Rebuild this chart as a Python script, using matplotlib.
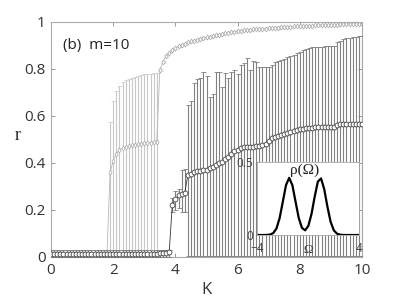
import numpy as np
import matplotlib
matplotlib.use('Agg')
import matplotlib.pyplot as plt

# coupling strength grid (step 0.1)
K = np.round(np.arange(0, 101) * 0.1, 1)

# order parameter, light gray branch (diamonds)
r_light = ([0.012] * 19 +
           [0.36, 0.41, 0.44, 0.455, 0.463, 0.468, 0.472, 0.475, 0.477, 0.48,
            0.482, 0.484, 0.486, 0.487, 0.489, 0.49] +
           [0.796, 0.83, 0.855, 0.87, 0.881, 0.89, 0.897, 0.903, 0.908, 0.913,
            0.917, 0.921, 0.925, 0.928, 0.931, 0.934, 0.937, 0.94, 0.943, 0.946,
            0.949, 0.952, 0.955, 0.957, 0.959, 0.961, 0.962, 0.964, 0.965, 0.967,
            0.968, 0.969, 0.97, 0.971, 0.972, 0.973, 0.974, 0.975, 0.976, 0.977,
            0.978, 0.979, 0.98, 0.981, 0.982, 0.983, 0.983, 0.984, 0.985, 0.985,
            0.986, 0.986, 0.987, 0.987, 0.988, 0.988, 0.989, 0.989, 0.99, 0.99,
            0.99, 0.991, 0.991, 0.991, 0.991, 0.992])
hi_light = ([0.03] * 19 +
            [0.573, 0.664, 0.708, 0.728, 0.743, 0.753, 0.757, 0.763, 0.767, 0.771,
             0.774, 0.777, 0.779, 0.78, 0.781, 0.782] +
            [v + 0.004 for v in r_light[35:]])
lo_light = [0.0] * 19 + [0.01] * 16 + [v - 0.004 for v in r_light[35:]]

# order parameter, dark branch (circles)
r_dark = ([0.012] * 35 + [0.015, 0.015, 0.015, 0.02] +
          [0.221, 0.245, 0.262, 0.268, 0.272,
           0.349, 0.355, 0.36, 0.365, 0.367, 0.37, 0.372, 0.377, 0.385, 0.391,
           0.398, 0.406, 0.415, 0.427, 0.438, 0.449, 0.456, 0.462, 0.466, 0.468,
           0.469, 0.47, 0.471, 0.474, 0.477, 0.48, 0.495, 0.505, 0.512, 0.515,
           0.519, 0.523, 0.527, 0.531, 0.535, 0.539, 0.543, 0.546, 0.548, 0.549,
           0.55, 0.551, 0.551, 0.552, 0.553, 0.553, 0.554, 0.555, 0.563, 0.565,
           0.566, 0.566, 0.566, 0.567, 0.567, 0.567, 0.567])
hi_dark = ([0.03] * 39 +
           [0.25, 0.28, 0.29, 0.37, 0.375,
            0.647, 0.665, 0.739, 0.757, 0.76, 0.789, 0.77, 0.682, 0.692, 0.789,
            0.786, 0.725, 0.784, 0.76, 0.786, 0.796, 0.777, 0.817, 0.824, 0.845,
            0.796, 0.836, 0.828, 0.81, 0.807, 0.807, 0.807, 0.817, 0.828, 0.835,
            0.838, 0.843, 0.85, 0.855, 0.86, 0.867, 0.874, 0.881, 0.885, 0.89,
            0.892, 0.893, 0.894, 0.895, 0.896, 0.897, 0.898, 0.898, 0.915, 0.92,
            0.926, 0.93, 0.932, 0.935, 0.937, 0.939, 0.94])
lo_dark = [0.0] * 39 + [0.19, 0.2, 0.21, 0.19, 0.19] + [0.003] * 57

# frequency distribution shown in the inset
omega = [-4.0, -3.75, -3.5, -3.25, -3.0, -2.75, -2.5, -2.25, -2.0, -1.75, -1.5,
         -1.25, -1.0, -0.75, -0.5, -0.25, 0.0, 0.25, 0.5, 0.75, 1.0, 1.25, 1.5,
         1.75, 2.0, 2.25, 2.5, 2.75, 3.0, 3.25, 3.5, 3.75, 4.0]
rho = [0.0, 0.0, 0.0, 0.0005, 0.003, 0.013, 0.044, 0.115, 0.227, 0.34, 0.39,
       0.34, 0.227, 0.116, 0.049, 0.032, 0.062, 0.143, 0.261, 0.364, 0.386, 0.312,
       0.193, 0.09, 0.032, 0.009, 0.002, 0.0, 0.0, 0.0, 0.0, 0.0, 0.0]

K = np.array(K)
r_light, hi_light, lo_light = map(np.array, (r_light, hi_light, lo_light))
r_dark, hi_dark, lo_dark = map(np.array, (r_dark, hi_dark, lo_dark))

plt.rcParams['font.family'] = ['Open Sans', 'DejaVu Sans']

fig = plt.figure(figsize=(3.99, 2.99), dpi=100)
ax = fig.add_axes([0.1278, 0.1405, 0.7795, 0.786])

# light gray branch
ax.errorbar(K, r_light, yerr=[r_light - lo_light, hi_light - r_light],
            fmt='-', color='#b8b8b8', lw=0.6, ecolor='#c8c8c8', elinewidth=0.8,
            capsize=1.8, capthick=0.7, marker='d', ms=2.6, mfc='white',
            mec='#a8a8a8', mew=0.5, zorder=2)

# dark branch
ax.errorbar(K, r_dark, yerr=[r_dark - lo_dark, hi_dark - r_dark],
            fmt='-', color='#333333', lw=0.6, ecolor='#808080', elinewidth=0.8,
            capsize=1.8, capthick=0.8, marker='o', ms=3.5, mfc='white',
            mec='#444444', mew=0.6, zorder=3)

ax.set_xlim(0, 10)
ax.set_ylim(0, 1)
ax.set_xticks([0, 2, 4, 6, 8, 10])
ax.set_yticks([0, 0.2, 0.4, 0.6, 0.8, 1])
ax.set_yticklabels(['0', '0.2', '0.4', '0.6', '0.8', '1'])
ax.tick_params(direction='in', top=True, right=True, length=3, width=0.6,
               color='#888888', labelsize=11, labelcolor='#333333', pad=4)
for s in ax.spines.values():
    s.set_color('#aaaaaa')
    s.set_linewidth(0.8)

ax.set_xlabel('K', fontsize=12, color='#333333', labelpad=3)
ax.set_ylabel('r', fontsize=13, color='#222222', family='Liberation Serif',
              rotation=0, va='center', ha='center')
ax.yaxis.set_label_coords(-0.106, 0.515)
ax.text(0.04, 0.9, '(b)  m=10', transform=ax.transAxes, fontsize=11,
        color='#222222', va='center')

# inset with the bimodal frequency distribution
axin = fig.add_axes([0.6449, 0.214, 0.2556, 0.2452])
axin.plot(omega, rho, color='black', lw=1.6)
axin.set_xlim(-4, 4)
axin.set_ylim(0, 0.5)
axin.set_xticks([-4, 4])
axin.set_yticks([0, 0.5])
axin.set_yticklabels(['0', '0.5'])
axin.tick_params(direction='in', length=2, width=0.5, color='#888888',
                 labelsize=8.5, labelcolor='#444444', right=True)
axin.tick_params(axis='x', pad=5)
axin.tick_params(axis='y', pad=3)
for s in axin.spines.values():
    s.set_color('#aaaaaa')
    s.set_linewidth(0.6)
axin.text(0.5, -0.21, 'Ω', transform=axin.transAxes, ha='center', va='center',
          fontsize=9.5, color='#444444', family='Liberation Serif')
axin.text(-0.3, 0.443, 'ρ(Ω)', ha='center', va='center', fontsize=11,
          color='#222222', family='Liberation Serif')

fig.savefig('out.png', dpi=100)
